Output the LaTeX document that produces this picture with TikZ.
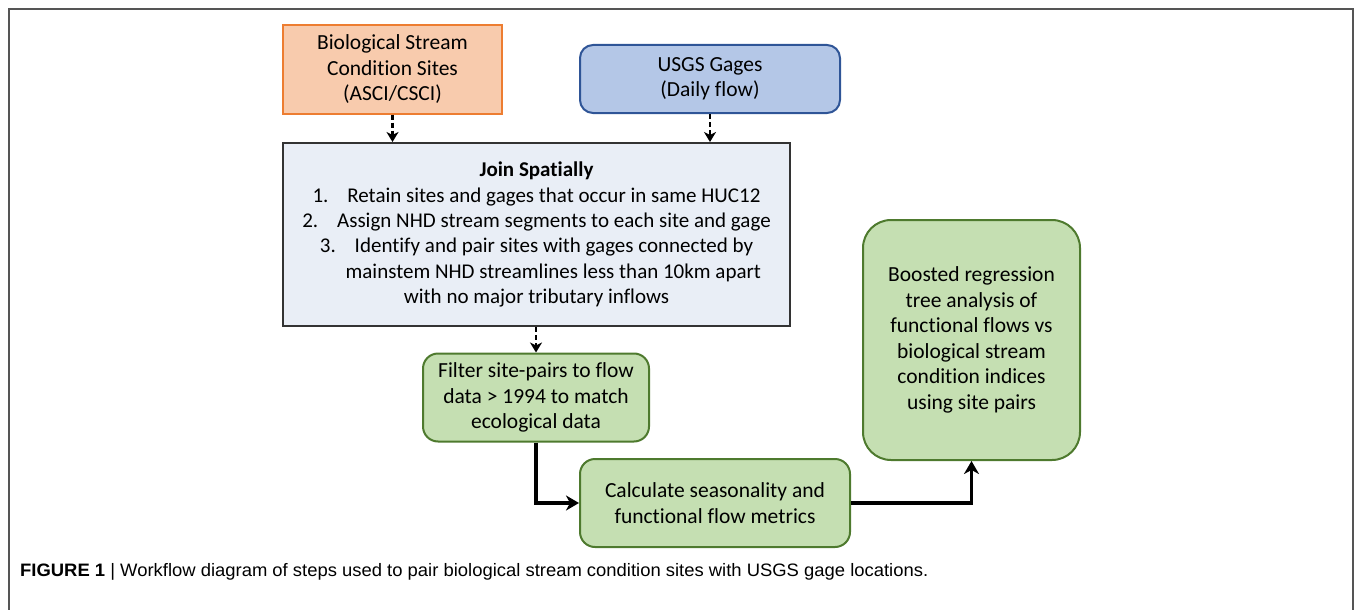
\documentclass[tikz,border=0pt]{standalone}
\usepackage{fontspec}
\setmainfont{Carlito}[Ligatures=NoCommon]
\newfontfamily\capfont{Liberation Sans}
\usetikzlibrary{arrows.meta}
\definecolor{orfill}{HTML}{F8CBAD}
\definecolor{ordraw}{HTML}{ED7D31}
\definecolor{blfill}{HTML}{B4C7E7}
\definecolor{bldraw}{HTML}{2F5597}
\definecolor{jnfill}{HTML}{E9EEF6}
\definecolor{jndraw}{HTML}{333333}
\definecolor{grfill}{HTML}{C5DFB2}
\definecolor{grdraw}{HTML}{4E7A2E}
\definecolor{framegray}{HTML}{555555}
\tikzset{
  boxtext/.style={align=center, font=\fontsize{21.5}{25.5}\selectfont, inner sep=0pt, line width=2pt},
  orbox/.style={boxtext, draw=ordraw, fill=orfill},
  blbox/.style={boxtext, draw=bldraw, fill=blfill, rounded corners=13pt},
  jnbox/.style={boxtext, font=\fontsize{21}{25.3}\selectfont, draw=jndraw, fill=jnfill},
  grbox/.style={boxtext, draw=grdraw, fill=grfill, rounded corners=15pt},
  dasharrow/.style={draw=black, line width=2.5pt, dash pattern=on 5pt off 3pt, -{Stealth[length=10pt,width=12pt,inset=3pt]}},
  solidarrow/.style={draw=black, line width=3.5pt, -{Stealth[length=13pt,width=15pt,inset=4pt]}},
}
\begin{document}
\begin{tikzpicture}[x=1pt,y=-1pt]
\useasboundingbox (0,0) rectangle (1355,610);
% frame
\draw[framegray, line width=1.5pt] (9,612) -- (9,9) -- (1353,9) -- (1353,612);
% nodes
\node[orbox, minimum width=219pt, minimum height=88pt] (bio) at (392.5,69.5)
  {Biological Stream\\Condition Sites\\(ASCI/CSCI)};
\node[blbox, minimum width=260pt, minimum height=68pt] (usgs) at (710,79)
  {USGS Gages\\(Daily flow)};
\node[jnbox, minimum width=507pt, minimum height=183pt] (join) at (536.5,234.5)
  {\textbf{Join Spatially}\\
   1.\hspace{0.9em}Retain sites and gages that occur in same HUC12\\
   2.\hspace{0.9em}Assign NHD stream segments to each site and gage\\
   3.\hspace{0.9em}Identify and pair sites with gages connected by\\
   \hspace{1.6em}mainstem NHD streamlines less than 10km apart\\
   with no major tributary inflows};
\node[grbox, minimum width=226pt, minimum height=88pt] (filter) at (536,397.5)
  {Filter site-pairs to flow\\data > 1994 to match\\ecological data};
\node[grbox, minimum width=270pt, minimum height=88pt] (calc) at (715,503)
  {Calculate seasonality and\\functional flow metrics};
\node[grbox, rounded corners=28pt, minimum width=217pt, minimum height=240pt] (boost) at (971.5,340)
  {Boosted regression\\tree analysis of\\functional flows vs\\biological stream\\condition indices\\using site pairs};
% connectors
\draw[dasharrow] (bio.south) -- (bio.south |- join.north);
\draw[dasharrow] (usgs.south) -- (usgs.south |- join.north);
\draw[dasharrow] (join.south -| filter.north) -- (filter.north);
\draw[solidarrow] (filter.south) |- (calc.west);
\draw[solidarrow] (calc.east) -| (boost.south);
% caption
\node[anchor=base west, inner sep=0pt] (cap) at (20,576)
  {\resizebox{908pt}{\height}{\capfont\fontsize{18}{20}\selectfont\textbf{FIGURE 1} | Workflow diagram of steps used to pair biological stream condition sites with USGS gage locations.}};
\end{tikzpicture}
\end{document}
